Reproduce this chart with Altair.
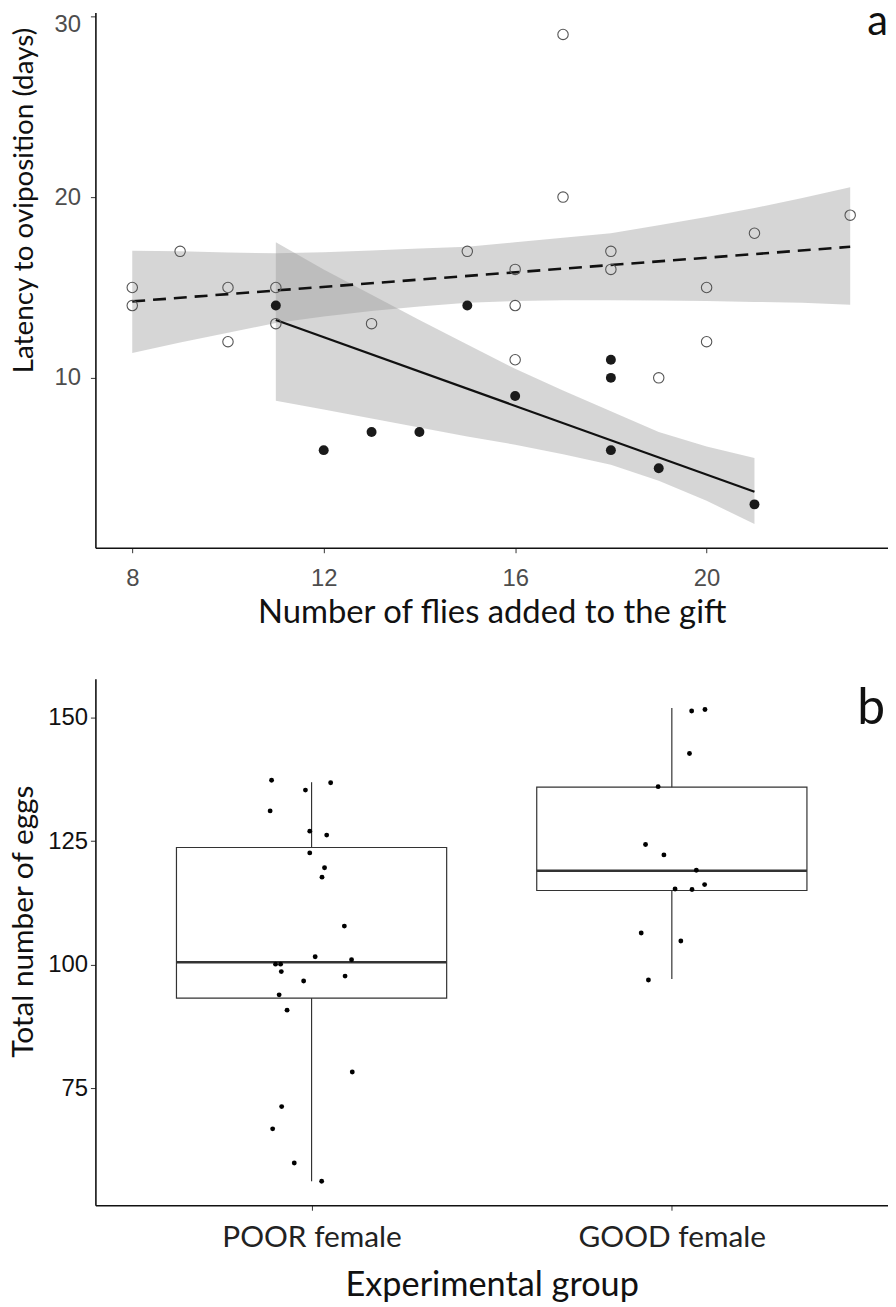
import altair as alt
import pandas as pd

# ---------------- Panel a data ----------------
open_x = [8, 8, 9, 10, 10, 11, 11, 13, 15, 16, 16, 16, 17, 17, 18, 18, 19, 20, 20, 21, 23]
open_y = [15, 14, 17, 15, 12, 15, 13, 13, 17, 16, 14, 11, 29, 20, 17, 16, 10, 15, 12, 18, 19]
filled_x = [11, 12, 13, 14, 15, 16, 18, 18, 18, 19, 21]
filled_y = [14, 6, 7, 7, 14, 9, 11, 10, 6, 5, 3]

# fitted lines
open_fit_x = [8, 23]
open_fit_y = [14.23, 17.25]
filled_fit_x = [11, 21]
filled_fit_y = [13.2, 3.7]

# confidence ribbons
open_band_x = [8, 9, 10, 11, 12, 13, 14, 15, 16, 17, 18, 19, 20, 21, 22, 23]
open_band_lo = [11.37, 11.95, 12.5, 13.03, 13.4, 13.7, 13.95, 14.15, 14.25, 14.3, 14.3, 14.28, 14.25, 14.2, 14.15, 14.05]
open_band_hi = [17.03, 17.0, 16.93, 16.9, 16.95, 17.05, 17.15, 17.25, 17.5, 17.75, 18.0, 18.45, 18.9, 19.4, 19.95, 20.55]
filled_band_x = [11, 12, 13, 14, 15, 16, 17, 18, 19, 20, 21]
filled_band_lo = [8.74, 8.25, 7.75, 7.25, 6.75, 6.3, 5.77, 5.19, 4.3, 3.2, 1.91]
filled_band_hi = [17.5, 16.0, 14.6, 13.2, 11.85, 10.5, 9.3, 8.15, 7.0, 6.2, 5.57]

# ---------------- Panel b data ----------------
group_labels = ["POOR female", "GOOD female"]
group_pos = [1, 2]
poor_eggs = [137.3, 136.8, 135.3, 131.1, 127.0, 126.2, 122.6, 119.6, 117.7, 107.8, 101.6, 101.0,
             100.1, 100.1, 98.6, 97.7, 96.7, 93.9, 90.8, 78.3, 71.3, 66.8, 59.9, 56.2]
poor_jitter = [-0.111, 0.053, -0.017, -0.115, -0.005, 0.042, -0.005, 0.036, 0.029, 0.091, 0.010, 0.111,
               -0.100, -0.086, -0.084, 0.093, -0.022, -0.090, -0.068, 0.113, -0.083, -0.108, -0.048, 0.028]
good_eggs = [151.3, 151.6, 142.7, 136.0, 124.3, 122.2, 119.1, 116.2, 115.3, 115.2, 106.4, 104.8, 96.9]
good_jitter = [0.055, 0.092, 0.049, -0.038, -0.073, -0.022, 0.068, 0.091, 0.009, 0.056, -0.085, 0.025, -0.065]

box_q1 = [93.25, 115.0]
box_median = [100.5, 119.0]
box_q3 = [123.7, 135.9]
box_lo = [56.2, 97.1]
box_hi = [136.9, 151.9]

# ---------------- Build tables ----------------
pts_open = pd.DataFrame({"x": open_x, "y": open_y})
pts_filled = pd.DataFrame({"x": filled_x, "y": filled_y})
fit_open = pd.DataFrame({"x": open_fit_x, "y": open_fit_y})
fit_filled = pd.DataFrame({"x": filled_fit_x, "y": filled_fit_y})
band_open = pd.DataFrame({"x": open_band_x, "lo": open_band_lo, "hi": open_band_hi})
band_filled = pd.DataFrame({"x": filled_band_x, "lo": filled_band_lo, "hi": filled_band_hi})

TITLE_FONT = "Lato"
TICK_FONT = "Liberation Sans"

W = 798
HA = 539
HB = 530

xa = alt.X("x:Q", scale=alt.Scale(domain=[7.23, 23.79], nice=False, zero=False),
           axis=alt.Axis(values=[8, 12, 16, 20], title="Number of flies added to the gift",
                         labelFont=TICK_FONT, labelFontSize=24, labelColor="#4d4d4d",
                         titleFont=TITLE_FONT, titleFontSize=33, titleFontWeight="normal",
                         titleColor="#111", titlePadding=6, labelPadding=14))
ya_scale = alt.Scale(domain=[0.6, 30.22], nice=False, zero=False)
ya_axis = alt.Axis(values=[10, 20, 30], title="Latency to oviposition (days)",
                   labelFont=TICK_FONT, labelFontSize=24, labelColor="#4d4d4d",
                   titleFont=TITLE_FONT, titleFontSize=28, titleFontWeight="normal",
                   titleColor="#111", titlePadding=16, labelPadding=10, titleY=189,
                   labelFlush=6, labelFlushOffset=4)

band_o = alt.Chart(band_open).mark_area(color="#999999", opacity=0.4).encode(
    x=xa, y=alt.Y("lo:Q", scale=ya_scale, axis=ya_axis), y2="hi:Q")
band_f = alt.Chart(band_filled).mark_area(color="#999999", opacity=0.4).encode(
    x="x:Q", y="lo:Q", y2="hi:Q")
line_o = alt.Chart(fit_open).mark_line(color="#111", strokeWidth=2.6, strokeDash=[13, 8]).encode(
    x="x:Q", y=alt.Y("y:Q"))
line_f = alt.Chart(fit_filled).mark_line(color="#111", strokeWidth=2.2).encode(
    x="x:Q", y=alt.Y("y:Q"))
p_open = alt.Chart(pts_open).mark_point(shape="circle", filled=False, color="#555", size=110,
                                        strokeWidth=1.1, opacity=1).encode(x="x:Q", y="y:Q")
p_filled = alt.Chart(pts_filled).mark_point(shape="circle", filled=True, color="#1a1a1a", size=100,
                                            opacity=1).encode(x="x:Q", y="y:Q")
lab_a = alt.Chart(pd.DataFrame({"t": ["a"]})).mark_text(
    font=TITLE_FONT, fontSize=42, align="right", baseline="alphabetic", color="#111",
    clip=True).encode(x=alt.value(W), y=alt.value(23), text="t:N")

panel_a = alt.layer(band_o, band_f, line_o, line_f, p_open, p_filled, lab_a).properties(
    width=W, height=HA)

# ---------------- Panel b ----------------
pts_b = pd.DataFrame({
    "x": [group_pos[0] + j for j in poor_jitter] + [group_pos[1] + j for j in good_jitter],
    "y": poor_eggs + good_eggs,
})
HALF = 0.375
boxes = pd.DataFrame({
    "g": group_pos,
    "x0": [g - HALF for g in group_pos],
    "x1": [g + HALF for g in group_pos],
    "q1": box_q1, "med": box_median, "q3": box_q3, "lo": box_lo, "hi": box_hi,
})

xb_scale = alt.Scale(domain=[0.4, 2.6], nice=False, zero=False)
label_expr = "datum.value == 1 ? '%s' : '%s'" % (group_labels[0], group_labels[1])
xb_axis = alt.Axis(values=group_pos, labelExpr=label_expr, title="Experimental group",
                   labelFont=TITLE_FONT, labelFontSize=30, labelColor="#222", labelLimit=600,
                   titleFont=TITLE_FONT, titleFontSize=34.5, titleFontWeight="normal",
                   titleColor="#111", titlePadding=16, labelPadding=13)
yb_scale = alt.Scale(domain=[51.35, 157.8], nice=False, zero=False)
yb_axis = alt.Axis(values=[75, 100, 125, 150], title="Total number of eggs",
                   labelFont=TICK_FONT, labelFontSize=24, labelColor="#111",
                   titleFont=TITLE_FONT, titleFontSize=30, titleFontWeight="normal",
                   titleColor="#111", titlePadding=9, labelPadding=3, titleY=244)

whisk_up = alt.Chart(boxes).mark_rule(color="#333", strokeWidth=1.2).encode(
    x=alt.X("g:Q", scale=xb_scale, axis=xb_axis),
    y=alt.Y("q3:Q", scale=yb_scale, axis=yb_axis), y2="hi:Q")
whisk_dn = alt.Chart(boxes).mark_rule(color="#333", strokeWidth=1.2).encode(
    x="g:Q", y="lo:Q", y2="q1:Q")
box = alt.Chart(boxes).mark_rect(fill="white", fillOpacity=0, stroke="#333", strokeWidth=1.2).encode(
    x="x0:Q", x2="x1:Q", y="q1:Q", y2="q3:Q")
med = alt.Chart(boxes).mark_rule(color="#333", strokeWidth=2.4).encode(
    x="x0:Q", x2="x1:Q", y="med:Q")
p_b = alt.Chart(pts_b).mark_circle(color="#000", size=24, opacity=1).encode(x="x:Q", y="y:Q")
lab_b = alt.Chart(pd.DataFrame({"t": ["b"]})).mark_text(
    font=TITLE_FONT, fontSize=50, align="right", baseline="alphabetic", color="#111",
    clip=True).encode(x=alt.value(W - 3), y=alt.value(45), text="t:N")

panel_b = alt.layer(whisk_up, whisk_dn, box, med, p_b, lab_b).properties(width=W, height=HB)

chart = alt.vconcat(panel_a, panel_b, spacing=50).properties(padding=0).configure_view(
    stroke=None).configure_axis(
    grid=False, domainColor="#111", domainWidth=1.6, tickColor="#333", tickSize=5, tickWidth=1)

chart.save("out.html", embed_options={"renderer": "svg", "actions": False})
